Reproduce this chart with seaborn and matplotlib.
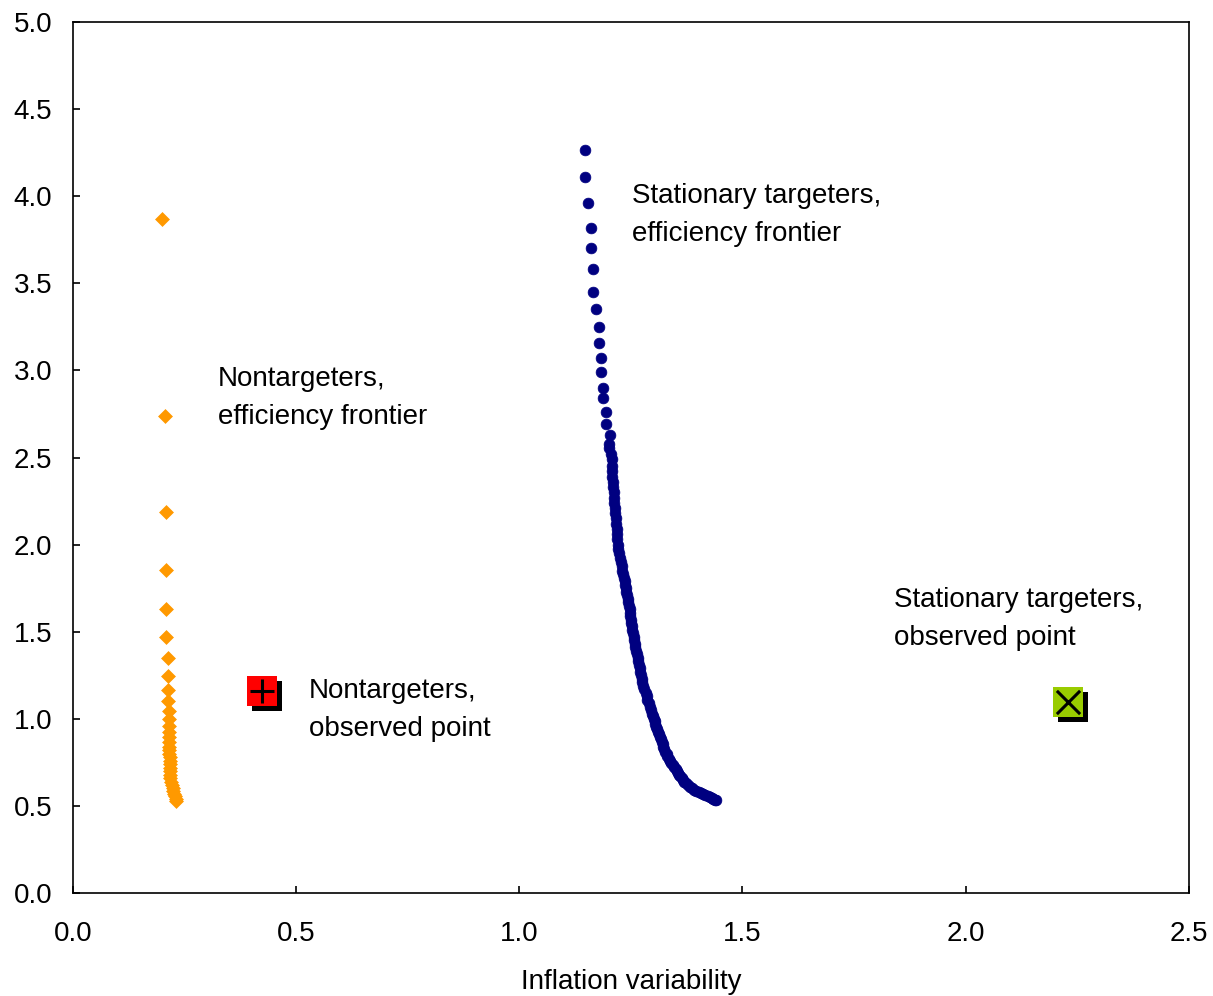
import matplotlib
matplotlib.use("Agg")
import matplotlib.pyplot as plt
import matplotlib.transforms as mtransforms
import seaborn as sns
import pandas as pd

# ---- data ----
stat_x = [1.147, 1.147, 1.154, 1.160, 1.160, 1.165, 1.165, 1.172, 1.178, 1.178,
          1.183, 1.183, 1.187, 1.187, 1.194, 1.194,
          1.203, 1.201, 1.202, 1.206, 1.207, 1.207, 1.208, 1.208, 1.210, 1.211,
          1.212, 1.213, 1.213, 1.214, 1.215, 1.216, 1.217, 1.218, 1.219, 1.220,
          1.221, 1.222, 1.224, 1.226, 1.227, 1.229, 1.231, 1.233, 1.234, 1.236,
          1.237, 1.239, 1.240, 1.241, 1.243, 1.244, 1.245, 1.247, 1.248, 1.249,
          1.250, 1.251, 1.252, 1.253, 1.254, 1.256, 1.257, 1.259, 1.260, 1.262,
          1.263, 1.265, 1.267, 1.268, 1.270, 1.271, 1.273, 1.275, 1.276, 1.278,
          1.280, 1.283, 1.285, 1.287, 1.290, 1.292, 1.294, 1.297, 1.299, 1.301,
          1.303, 1.305, 1.307, 1.309, 1.311, 1.313, 1.315, 1.317, 1.319, 1.321,
          1.323, 1.325, 1.327, 1.330, 1.332, 1.335, 1.338, 1.341, 1.344, 1.347,
          1.350, 1.353, 1.355, 1.358, 1.361, 1.364, 1.367, 1.370, 1.374, 1.378,
          1.382, 1.387, 1.392, 1.397, 1.402, 1.407, 1.412, 1.417, 1.422, 1.427,
          1.432, 1.435, 1.438, 1.441]
stat_y = [4.265, 4.11, 3.96, 3.82, 3.70, 3.58, 3.45, 3.35, 3.25, 3.16,
          3.07, 2.99, 2.90, 2.84, 2.76, 2.69,
          2.63, 2.58, 2.555, 2.52, 2.49, 2.45, 2.42, 2.39, 2.36, 2.33,
          2.30, 2.27, 2.24, 2.21, 2.18, 2.15, 2.12, 2.09, 2.06, 2.03,
          2.00, 1.975, 1.95, 1.925, 1.90, 1.875, 1.85, 1.83, 1.81, 1.79,
          1.77, 1.75, 1.73, 1.71, 1.69, 1.67, 1.65, 1.63, 1.61, 1.59,
          1.57, 1.55, 1.53, 1.51, 1.49, 1.47, 1.45, 1.43, 1.41, 1.39,
          1.37, 1.35, 1.33, 1.31, 1.29, 1.27, 1.25, 1.23, 1.21, 1.19,
          1.17, 1.15, 1.13, 1.11, 1.09, 1.07, 1.05, 1.03, 1.015, 1.00,
          0.985, 0.97, 0.955, 0.94, 0.925, 0.91, 0.896, 0.882, 0.868, 0.854,
          0.84, 0.826, 0.812, 0.798, 0.785, 0.772, 0.76, 0.748, 0.736, 0.724,
          0.712, 0.70, 0.69, 0.68, 0.67, 0.66, 0.65, 0.64, 0.63, 0.62,
          0.61, 0.60, 0.592, 0.585, 0.578, 0.572, 0.566, 0.56, 0.555, 0.55,
          0.545, 0.54, 0.536, 0.534]

non_x = [0.199, 0.206, 0.208, 0.208, 0.208, 0.208, 0.212, 0.212, 0.213, 0.213,
         0.214, 0.214, 0.214, 0.215, 0.215, 0.215, 0.216, 0.216, 0.216, 0.217,
         0.217, 0.217, 0.217, 0.218, 0.218, 0.218, 0.219, 0.222, 0.224, 0.225,
         0.226, 0.228, 0.230, 0.231]
non_y = [3.87, 2.74, 2.19, 1.855, 1.63, 1.47, 1.35, 1.245, 1.165, 1.10,
         1.045, 1.00, 0.96, 0.925, 0.895, 0.867, 0.84, 0.82, 0.80, 0.78,
         0.76, 0.74, 0.72, 0.70, 0.68, 0.66, 0.64, 0.62, 0.60, 0.585,
         0.57, 0.555, 0.54, 0.53]

obs_non = (0.423, 1.16)
obs_stat = (2.229, 1.097)

x_ticks = [0.0, 0.5, 1.0, 1.5, 2.0, 2.5]
y_ticks = [0.0, 0.5, 1.0, 1.5, 2.0, 2.5, 3.0, 3.5, 4.0, 4.5, 5.0]
x_label = "Inflation variability"

labels = [
    ("Stationary targeters,\nefficiency frontier", 1.252, 3.89),
    ("Nontargeters,\nefficiency frontier", 0.325, 2.84),
    ("Nontargeters,\nobserved point", 0.529, 1.05),
    ("Stationary targeters,\nobserved point", 1.839, 1.573),
]

# ---- plot ----
sns.set_theme(style="white")
plt.rcParams["font.family"] = ["Liberation Sans", "DejaVu Sans"]

FS = 20

fig = plt.figure(figsize=(12.13, 9.96), dpi=100)
ax = fig.add_axes([0.0602, 0.1034, 0.9198, 0.8745])

stat_df = pd.DataFrame({"x": stat_x, "y": stat_y})
non_df = pd.DataFrame({"x": non_x, "y": non_y})

sns.scatterplot(data=stat_df, x="x", y="y", ax=ax, color="#000080",
                marker="o", s=60, edgecolor="#000080", linewidth=0.5, zorder=3)
sns.scatterplot(data=non_df, x="x", y="y", ax=ax, color="#FF9900",
                marker="D", s=50, edgecolor="#FF9900", linewidth=0.5, zorder=3)

shadow = mtransforms.offset_copy(ax.transData, fig=fig, x=5, y=-5, units="dots")
for (px, py), col, sym in [(obs_non, "#FF0000", "+"), (obs_stat, "#99CC00", "x")]:
    ax.scatter([px], [py], marker="s", s=440, color="black", linewidths=0,
               transform=shadow, zorder=4)
    ax.scatter([px], [py], marker="s", s=440, color=col, linewidths=0, zorder=5)
    ax.scatter([px], [py], marker=sym, s=280, color="black", linewidths=2.2, zorder=6)

for txt, tx, ty in labels:
    ax.text(tx, ty, txt, fontsize=FS, va="center", ha="left",
            linespacing=1.6, color="black")

ax.set_xlim(0, 2.5)
ax.set_ylim(0, 5.0)
ax.set_xticks(x_ticks)
ax.set_yticks(y_ticks)
ax.set_xticklabels([f"{v:.1f}" for v in x_ticks])
ax.set_yticklabels([f"{v:.1f}" for v in y_ticks])
ax.set_xlabel(x_label, fontsize=FS, labelpad=16, color="black")
ax.set_ylabel("")
ax.tick_params(axis="x", direction="in", length=5, width=1.2, pad=20,
               labelsize=FS, colors="black", bottom=True)
ax.tick_params(axis="y", direction="in", length=5, width=1.2, pad=15,
               labelsize=FS, colors="black", left=True)
for sp in ax.spines.values():
    sp.set_color("black")
    sp.set_linewidth(1.2)
    sp.set_visible(True)

fig.savefig("out.png", dpi=100, facecolor="white")
